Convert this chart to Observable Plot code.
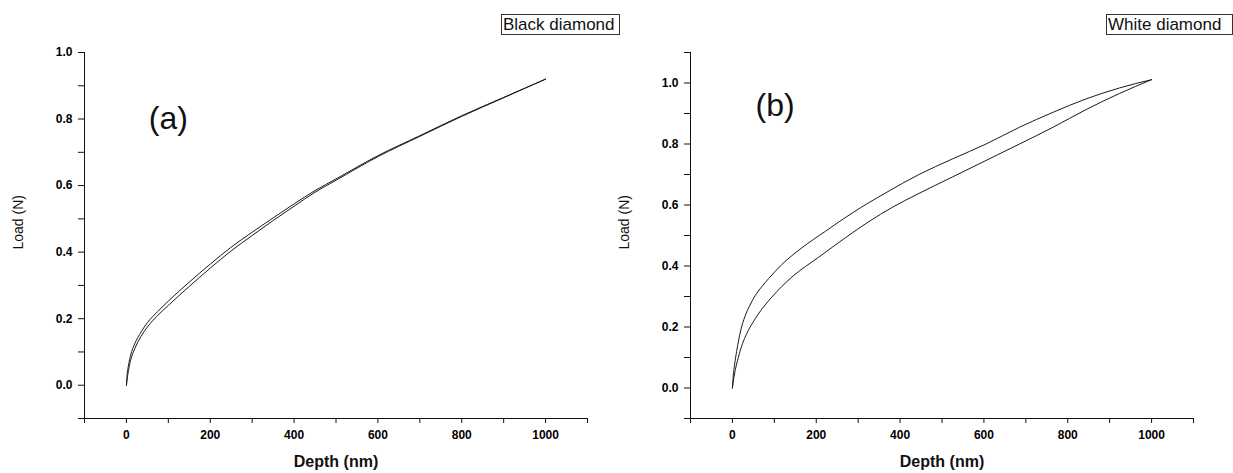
<!DOCTYPE html>
<html>
<head>
<meta charset="utf-8">
<script src="https://cdn.jsdelivr.net/npm/d3@7"></script>
<script src="https://cdn.jsdelivr.net/npm/@observablehq/plot@0.6"></script>
<style>
  body { margin: 0; background: #fff; font-family: "Liberation Sans", Arial, sans-serif; }
  #wrap { position: relative; width: 1233px; height: 473px; display: flex; overflow: hidden; }
  #wrap svg { overflow: visible; }
  .tag { position: absolute; top: 14px; height: 21px; border: 1px solid #333; box-sizing: border-box;
         font-size: 17px; line-height: 19px; padding: 0 1px; color: #111; white-space: nowrap; background: #fff; }
</style>
</head>
<body>
<div id="wrap">
  <div id="panelA"></div>
  <div id="panelB"></div>
  <div class="tag" style="left:501px;width:119px">Black diamond</div>
  <div class="tag" style="left:1106px;width:127px">White diamond</div>
</div>
<script>
// ---- data ----
// Panel (a) Black diamond: two nearly coincident curves
const depthA = [0, 2, 5, 10, 20, 35, 50, 75, 100, 150, 200, 250, 300, 350, 400, 450, 500, 600, 700, 800, 900, 1000];
const loadA1 = [0, 0.035, 0.06, 0.09, 0.125, 0.16, 0.188, 0.222, 0.253, 0.31, 0.364, 0.415, 0.46, 0.503, 0.545, 0.585, 0.62, 0.69, 0.75, 0.81, 0.865, 0.92];
const loadA2 = [0, 0.02, 0.045, 0.075, 0.11, 0.147, 0.175, 0.21, 0.24, 0.297, 0.352, 0.404, 0.45, 0.495, 0.538, 0.58, 0.616, 0.687, 0.748, 0.808, 0.864, 0.92];

// Panel (b) White diamond: upper and lower curves
const depthB1 = [0, 2, 5, 10, 20, 30, 42, 54, 70, 86, 118, 166, 222, 286, 366, 445, 525, 605, 685, 765, 844, 924, 1000];
const loadB1  = [0, 0.04, 0.075, 0.12, 0.19, 0.235, 0.272, 0.302, 0.332, 0.358, 0.405, 0.46, 0.514, 0.574, 0.64, 0.7, 0.751, 0.80, 0.855, 0.904, 0.948, 0.984, 1.011];
const depthB2 = [0, 3, 7, 14, 24, 34, 48, 62, 94, 142, 206, 270, 326, 381, 445, 525, 605, 685, 765, 844, 924, 1000];
const loadB2  = [0, 0.03, 0.06, 0.10, 0.145, 0.178, 0.213, 0.243, 0.298, 0.364, 0.429, 0.493, 0.546, 0.592, 0.638, 0.692, 0.746, 0.80, 0.855, 0.913, 0.966, 1.011];

const xTicks = d3.range(-1, 12).map(i => i * 100);
const xLabelTicks = [0, 200, 400, 600, 800, 1000];
const yTicksA = d3.range(-1, 11).map(i => i / 10);
const yTicksB = d3.range(-1, 12).map(i => i / 10);
const yLabelTicks = [0, 0.2, 0.4, 0.6, 0.8, 1.0];

const xLabel = "Depth (nm)";
const yLabel = "Load (N)";

function toRows(depth, load) { return depth.map((d, i) => ({depth: d, load: load[i]})); }

function panel({width, marginLeft, marginRight, yDomain, yTicks, curves, tag, tagX, tagY}) {
  return Plot.plot({
    width, height: 473,
    marginLeft, marginRight, marginTop: 52, marginBottom: 55,
    style: {fontFamily: "'Liberation Sans', Arial, sans-serif", background: "#fff", overflow: "visible"},
    x: {domain: [-100, 1100], label: null},
    y: {domain: yDomain, label: null},
    marks: [
      Plot.ruleX([-100], {stroke: "#111", strokeWidth: 1}),
      Plot.ruleY([yDomain[0]], {stroke: "#111", strokeWidth: 1}),
      Plot.axisX({ticks: xTicks, tickSize: 5, tickPadding: 7, stroke: "#111",
        tickFormat: d => xLabelTicks.includes(d) ? String(d) : "",
        fontWeight: "bold", fontSize: 12, fill: "#000"}),
      Plot.axisY({ticks: yTicks, tickSize: 6, tickPadding: 6, stroke: "#111",
        tickFormat: d => yLabelTicks.some(v => Math.abs(v - d) < 1e-9) ? d3.format(".1f")(d) : "",
        fontWeight: "bold", fontSize: 12, fill: "#000"}),
      ...curves.map(c => Plot.line(toRows(c.depth, c.load), {x: "depth", y: "load", stroke: "#1a1a1a", strokeWidth: 1, curve: "monotone-x"})),
      Plot.text([xLabel], {frameAnchor: "bottom", dy: 48, fontSize: 16, fontWeight: "bold", fill: "#111"}),
      Plot.text([yLabel], {frameAnchor: "left", dx: -66, dy: 14, rotate: -90, fontSize: 14, fill: "#111"}),
      Plot.text([tag], {x: tagX, y: tagY, fontSize: 32, fill: "#111"})
    ]
  });
}

document.getElementById("panelA").append(panel({
  width: 617, marginLeft: 84, marginRight: 30,
  yDomain: [-0.1, 1.0], yTicks: yTicksA,
  curves: [{depth: depthA, load: loadA1}, {depth: depthA, load: loadA2}],
  tag: "(a)", tagX: 100, tagY: 0.8
}));
document.getElementById("panelB").append(panel({
  width: 616, marginLeft: 73, marginRight: 40,
  yDomain: [-0.1, 1.1], yTicks: yTicksB,
  curves: [{depth: depthB1, load: loadB1}, {depth: depthB2, load: loadB2}],
  tag: "(b)", tagX: 102, tagY: 0.925
}));
</script>
</body>
</html>
